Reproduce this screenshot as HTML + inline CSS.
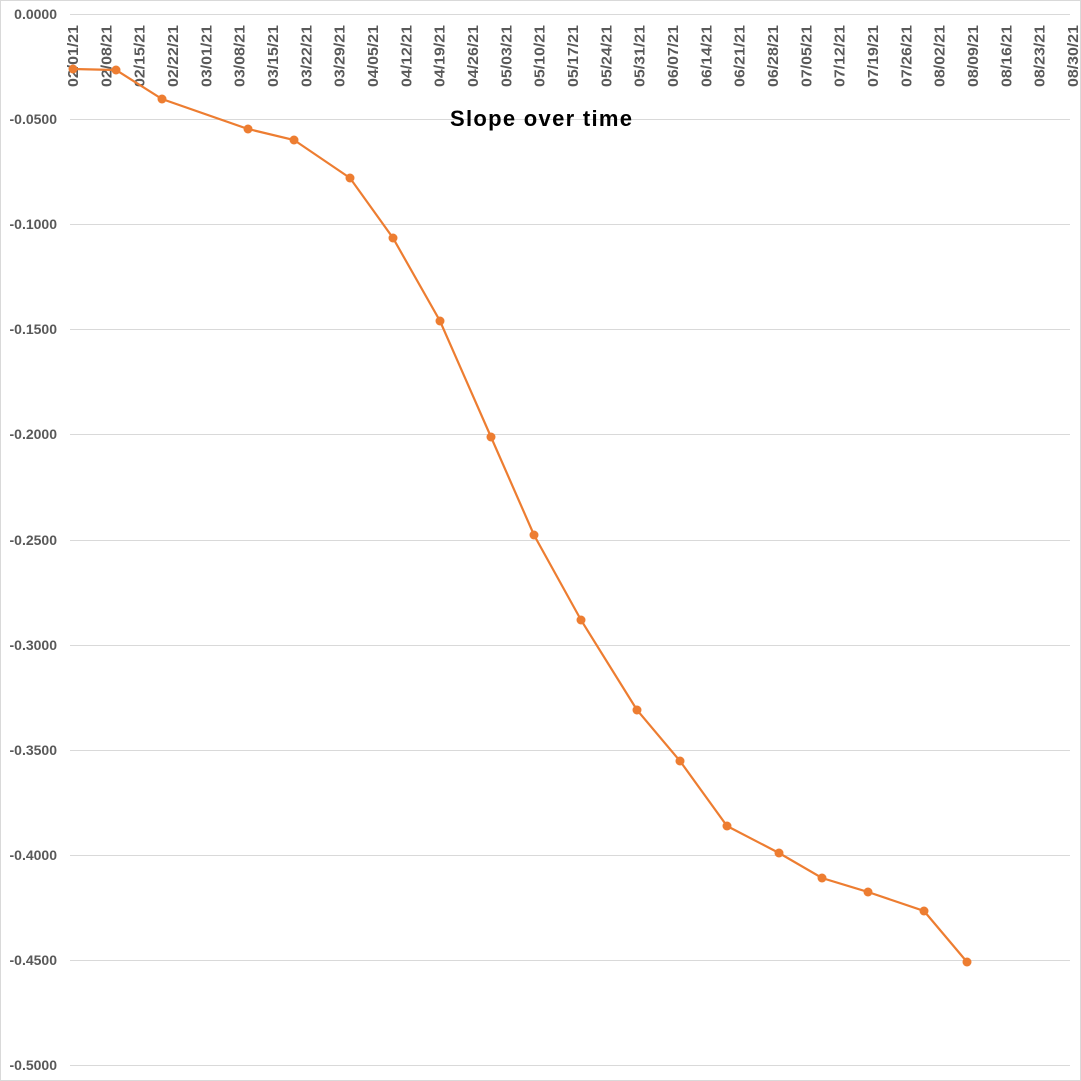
<!DOCTYPE html>
<html><head><style>body{margin:0;background:#fff}svg{display:block}</style></head><body>
<svg width="1081" height="1081" xmlns="http://www.w3.org/2000/svg" font-family="Liberation Sans, sans-serif">
<rect x="0.5" y="0.5" width="1080" height="1080" fill="#fff" stroke="#d9d9d9"/>
<g stroke="#d9d9d9" stroke-width="1">
<line x1="70" x2="1070" y1="14.5" y2="14.5"/><line x1="70" x2="1070" y1="119.5" y2="119.5"/><line x1="70" x2="1070" y1="224.5" y2="224.5"/><line x1="70" x2="1070" y1="329.5" y2="329.5"/><line x1="70" x2="1070" y1="434.5" y2="434.5"/><line x1="70" x2="1070" y1="540.5" y2="540.5"/><line x1="70" x2="1070" y1="645.5" y2="645.5"/><line x1="70" x2="1070" y1="750.5" y2="750.5"/><line x1="70" x2="1070" y1="855.5" y2="855.5"/><line x1="70" x2="1070" y1="960.5" y2="960.5"/><line x1="70" x2="1070" y1="1065.5" y2="1065.5"/>
</g>
<g fill="#595959" font-size="14" font-weight="bold" text-anchor="end">
<text x="57" y="19">0.0000</text><text x="57" y="124">-0.0500</text><text x="57" y="229">-0.1000</text><text x="57" y="334">-0.1500</text><text x="57" y="439">-0.2000</text><text x="57" y="545">-0.2500</text><text x="57" y="650">-0.3000</text><text x="57" y="755">-0.3500</text><text x="57" y="860">-0.4000</text><text x="57" y="965">-0.4500</text><text x="57" y="1070">-0.5000</text>
</g>
<g fill="#595959" font-size="14.5" font-weight="bold" text-anchor="end" textLength="62" lengthAdjust="spacingAndGlyphs">
<text textLength="62" lengthAdjust="spacingAndGlyphs" transform="translate(78,25) rotate(-90)">02/01/21</text>
<text textLength="62" lengthAdjust="spacingAndGlyphs" transform="translate(111.3,25) rotate(-90)">02/08/21</text>
<text textLength="62" lengthAdjust="spacingAndGlyphs" transform="translate(144.7,25) rotate(-90)">02/15/21</text>
<text textLength="62" lengthAdjust="spacingAndGlyphs" transform="translate(178,25) rotate(-90)">02/22/21</text>
<text textLength="62" lengthAdjust="spacingAndGlyphs" transform="translate(211.3,25) rotate(-90)">03/01/21</text>
<text textLength="62" lengthAdjust="spacingAndGlyphs" transform="translate(244.7,25) rotate(-90)">03/08/21</text>
<text textLength="62" lengthAdjust="spacingAndGlyphs" transform="translate(278,25) rotate(-90)">03/15/21</text>
<text textLength="62" lengthAdjust="spacingAndGlyphs" transform="translate(311.3,25) rotate(-90)">03/22/21</text>
<text textLength="62" lengthAdjust="spacingAndGlyphs" transform="translate(344.7,25) rotate(-90)">03/29/21</text>
<text textLength="62" lengthAdjust="spacingAndGlyphs" transform="translate(378,25) rotate(-90)">04/05/21</text>
<text textLength="62" lengthAdjust="spacingAndGlyphs" transform="translate(411.3,25) rotate(-90)">04/12/21</text>
<text textLength="62" lengthAdjust="spacingAndGlyphs" transform="translate(444.7,25) rotate(-90)">04/19/21</text>
<text textLength="62" lengthAdjust="spacingAndGlyphs" transform="translate(478,25) rotate(-90)">04/26/21</text>
<text textLength="62" lengthAdjust="spacingAndGlyphs" transform="translate(511.3,25) rotate(-90)">05/03/21</text>
<text textLength="62" lengthAdjust="spacingAndGlyphs" transform="translate(544.7,25) rotate(-90)">05/10/21</text>
<text textLength="62" lengthAdjust="spacingAndGlyphs" transform="translate(578,25) rotate(-90)">05/17/21</text>
<text textLength="62" lengthAdjust="spacingAndGlyphs" transform="translate(611.3,25) rotate(-90)">05/24/21</text>
<text textLength="62" lengthAdjust="spacingAndGlyphs" transform="translate(644.7,25) rotate(-90)">05/31/21</text>
<text textLength="62" lengthAdjust="spacingAndGlyphs" transform="translate(678,25) rotate(-90)">06/07/21</text>
<text textLength="62" lengthAdjust="spacingAndGlyphs" transform="translate(711.3,25) rotate(-90)">06/14/21</text>
<text textLength="62" lengthAdjust="spacingAndGlyphs" transform="translate(744.7,25) rotate(-90)">06/21/21</text>
<text textLength="62" lengthAdjust="spacingAndGlyphs" transform="translate(778,25) rotate(-90)">06/28/21</text>
<text textLength="62" lengthAdjust="spacingAndGlyphs" transform="translate(811.3,25) rotate(-90)">07/05/21</text>
<text textLength="62" lengthAdjust="spacingAndGlyphs" transform="translate(844.7,25) rotate(-90)">07/12/21</text>
<text textLength="62" lengthAdjust="spacingAndGlyphs" transform="translate(878,25) rotate(-90)">07/19/21</text>
<text textLength="62" lengthAdjust="spacingAndGlyphs" transform="translate(911.3,25) rotate(-90)">07/26/21</text>
<text textLength="62" lengthAdjust="spacingAndGlyphs" transform="translate(944.7,25) rotate(-90)">08/02/21</text>
<text textLength="62" lengthAdjust="spacingAndGlyphs" transform="translate(978,25) rotate(-90)">08/09/21</text>
<text textLength="62" lengthAdjust="spacingAndGlyphs" transform="translate(1011.3,25) rotate(-90)">08/16/21</text>
<text textLength="62" lengthAdjust="spacingAndGlyphs" transform="translate(1044.7,25) rotate(-90)">08/23/21</text>
<text textLength="62" lengthAdjust="spacingAndGlyphs" transform="translate(1078,25) rotate(-90)">08/30/21</text>
</g>
<text x="541" y="126" text-anchor="middle" font-size="22" font-weight="bold" fill="#000" textLength="182">Slope over time</text>
<polyline fill="none" stroke="#ED7D31" stroke-width="2.2" points="73,69 116,70 162,99 248,129 294,140 350,178 393,238 440,321 491,437 534,535 581,620 637,710 680,761 727,826 779,853 822,878 868,892 924,911 967,962"/>
<g fill="#ED7D31"><circle cx="73" cy="69" r="4.5"/><circle cx="116" cy="70" r="4.5"/><circle cx="162" cy="99" r="4.5"/><circle cx="248" cy="129" r="4.5"/><circle cx="294" cy="140" r="4.5"/><circle cx="350" cy="178" r="4.5"/><circle cx="393" cy="238" r="4.5"/><circle cx="440" cy="321" r="4.5"/><circle cx="491" cy="437" r="4.5"/><circle cx="534" cy="535" r="4.5"/><circle cx="581" cy="620" r="4.5"/><circle cx="637" cy="710" r="4.5"/><circle cx="680" cy="761" r="4.5"/><circle cx="727" cy="826" r="4.5"/><circle cx="779" cy="853" r="4.5"/><circle cx="822" cy="878" r="4.5"/><circle cx="868" cy="892" r="4.5"/><circle cx="924" cy="911" r="4.5"/><circle cx="967" cy="962" r="4.5"/></g>
</svg>
</body></html>
